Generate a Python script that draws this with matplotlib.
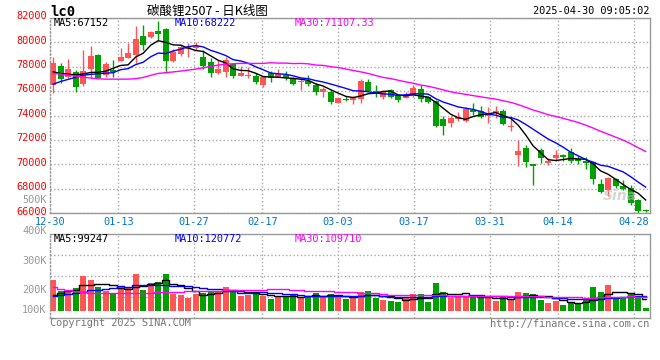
import numpy as np
import pandas as pd
import matplotlib
matplotlib.use('Agg')
import matplotlib.pyplot as plt
from matplotlib.transforms import ScaledTranslation

plt.rcParams['font.family'] = ['DejaVu Sans Mono', 'Noto Sans CJK SC']

# ---- data ----
tick_idx = [0, 9, 19, 28, 38, 48, 58, 67, 77]
tick_lab = ['12-30', '01-13', '01-27', '02-17', '03-03', '03-17', '03-31', '04-14', '04-28']

o = [76500, 78060, 77180, 77560, 76580, 77810, 78960, 77320, 77730, 78470,
     78740, 78960, 80540, 80460, 80950, 81070, 78490, 79040, 79450, 79510,
     78770, 78360, 77460, 77590, 78220, 77260, 77260, 77260, 76500, 77460,
     77180, 77320, 76990, 76770, 76850, 76500, 75950, 75950, 75050, 75300,
     75270, 75330, 76720, 76000, 75540, 76090, 75680, 75470, 75620, 76170,
     75540, 75190, 73700, 73360, 73690, 73580, 74450, 74400, 73960, 74180,
     74400, 73030, 70760, 71310, 70030, 71170, 70160, 70490, 70760, 71040,
     70440, 70300, 70210, 68440, 67890, 68850, 68240, 68080, 67070, 66310]
h = [78770, 78280, 78630, 77730, 79370, 79700, 79040, 78390, 78550, 79510,
     79920, 81340, 81420, 80950, 81750, 81170, 79450, 79850, 79920, 80050,
     79370, 78690, 78550, 78800, 78300, 78060, 78000, 77460, 77260, 77650,
     77850, 77650, 77180, 77050, 77320, 76640, 76360, 76090, 75540, 75600,
     75600, 76990, 76990, 76500, 76000, 76170, 75740, 75950, 76500, 76500,
     75600, 75300, 73960, 73960, 74300, 74720, 75000, 74780, 74720, 74780,
     74540, 73690, 71990, 71580, 70030, 71390, 70490, 71170, 70840, 71390,
     70680, 70620, 70300, 68850, 68980, 68930, 68710, 68300, 67210, 66390]
l = [75870, 76640, 77070, 75950, 76420, 77050, 77070, 77180, 77180, 78470,
     78740, 78280, 79370, 80400, 80190, 77460, 78400, 78880, 78820, 79370,
     77810, 77180, 77400, 77180, 77050, 77260, 77050, 76580, 76360, 76770,
     77180, 76950, 76500, 76090, 76420, 75680, 75540, 74990, 75050, 75180,
     74930, 75000, 75950, 75540, 75350, 75470, 75130, 75410, 75490, 75130,
     75000, 73080, 72400, 73100, 73600, 73490, 74040, 73800, 73430, 73780,
     73220, 72750, 69860, 69800, 68300, 70130, 69940, 70300, 70300, 70130,
     70030, 69620, 68360, 67670, 67400, 68110, 67890, 66660, 66030, 66100]
c = [78280, 76990, 77810, 76360, 77650, 78880, 77100, 78220, 77540, 78820,
     79150, 80270, 79780, 80820, 80680, 78490, 79230, 79640, 79640, 79700,
     78080, 77460, 77810, 78550, 77260, 77460, 77340, 76770, 77180, 77050,
     77400, 77050, 76580, 76850, 76580, 75950, 76170, 75080, 75460, 75270,
     75410, 76830, 76000, 75740, 75950, 75540, 75270, 75610, 76230, 75350,
     75130, 73160, 73180, 73770, 73900, 74510, 74260, 73900, 74180, 74400,
     73280, 73160, 71090, 70210, 69860, 70490, 70300, 70760, 70620, 70300,
     70300, 70160, 68850, 67750, 68930, 68220, 68030, 66850, 66200, 66150]
vol_k = [253, 163, 165, 185, 285, 253, 193, 163, 139, 190,
         190, 302, 171, 226, 234, 302, 136, 130, 104, 139,
         144, 163, 163, 193, 171, 122, 130, 152, 122, 98,
         108, 117, 136, 108, 122, 144, 108, 139, 108, 98,
         108, 152, 163, 104, 90, 82, 71, 104, 136, 136,
         71, 226, 152, 104, 108, 117, 112, 104, 104, 82,
         112, 90, 152, 144, 136, 90, 63, 82, 49, 63,
         55, 90, 193, 152, 209, 108, 112, 144, 108, 22]

# moving averages before enough history is on the chart
ma5_head = [77590, 77450, 77400, 77350]
ma10_head = [76580, 76800, 76970, 77150, 77320, 77380, 77440, 77480, 77520]
ma30_head = [77460, 77400, 77320, 77240, 77150, 77080, 77020, 76990, 76990, 76990,
             76990, 77030, 77130, 77300, 77460, 77520, 77580, 77650, 77730, 77810,
             77920, 78030, 78140, 78220, 78250, 78280, 78280, 78280, 78280]
vma5_head = [130, 144, 160, 171]
vma10_head = [117, 126, 135, 144, 155, 165, 172, 178, 182]
vma30_head = [190, 180, 170, 160, 152, 148, 146, 144, 144, 144,
              144, 144, 146, 148, 150, 152, 153, 155, 157, 160,
              162, 163, 164, 165, 166, 166, 166, 166, 166]

RED, GREEN = '#ff5555', '#00a000'
GRIDC = '#aaaaaa'
W, H = 660, 360
GRID_K = 7.58 / 7.5  # date grid spacing is a bit wider than the candle spacing


def fx(px):
    return px / W


def fy(py):
    return 1 - py / H


def ma(values, n, head):
    s = pd.Series(values, dtype=float).rolling(n).mean().to_numpy()
    s[:len(head)] = head
    return s


o, h, l, c = map(np.array, (o, h, l, c))
vol = np.array(vol_k) * 1000.0
n = len(c)
x = np.arange(n) + 0.42
col = np.where(c >= o, RED, GREEN)

fig = plt.figure(figsize=(W / 100, H / 100), dpi=100)
ax = fig.add_axes([fx(50), fy(213.3), 600 / W, (213.3 - 18) / H])
axv = fig.add_axes([fx(50), fy(318), 600 / W, 84 / H])

# ---- price panel ----
ax.vlines(x, l, h, colors=col, lw=1)
body = np.maximum(np.abs(c - o), 60)
ax.bar(x, body, bottom=np.minimum(o, c), width=0.78, color=col, lw=0)
ax.plot(x, ma(c, 5, ma5_head), c='k', lw=1)
ax.plot(x, ma(c, 10, ma10_head), c='#0000ff', lw=1)
ax.plot(x, ma(c, 30, ma30_head), c='#ff00ff', lw=1)
ax.set_xlim(0, n)
ax.set_ylim(66000, 82000)
ax.set_yticks(np.arange(66000, 82001, 2000))
ax.set_yticklabels(['%d' % v for v in np.arange(66000, 82001, 2000)])
ax.set_xticks(np.array(tick_idx) * GRID_K)
ax.set_xticklabels(tick_lab)
ax.tick_params(axis='y', length=0, pad=2.4, labelsize=7.4, labelcolor='#ff0000')
ax.tick_params(axis='x', length=0, pad=2.5, labelsize=7.4, labelcolor='#0077cc')
for lab in ax.get_yticklabels():
    lab.set_transform(lab.get_transform() + ScaledTranslation(0, 2 / 72, fig.dpi_scale_trans))
ax.grid(True, ls=':', color=GRIDC, lw=1)
ax.set_axisbelow(True)

# ---- volume panel ----
axv.bar(x, vol, width=0.78, color=col, lw=0)
axv.plot(x, ma(vol, 5, np.array(vma5_head) * 1000), c='k', lw=1, drawstyle='steps-mid')
axv.plot(x, ma(vol, 10, np.array(vma10_head) * 1000), c='#0000ff', lw=1, drawstyle='steps-mid')
axv.plot(x, ma(vol, 30, np.array(vma30_head) * 1000), c='#ff00ff', lw=1, drawstyle='steps-mid')
axv.set_xlim(0, n)
vlo, vhi = -59500, 625000
axv.set_ylim(vlo, vhi)
axv.set_yticks([vhi - f * (vhi - vlo) for f in (0.25, 0.5, 0.75)])
axv.set_xticks(np.array(tick_idx) * GRID_K)
axv.tick_params(length=0, labelleft=False, labelbottom=False)
axv.grid(True, ls=':', color=GRIDC, lw=1)
axv.set_axisbelow(True)

for a in (ax, axv):
    for s in a.spines.values():
        s.set_color('#999999')
        s.set_linewidth(1)
    a.spines['left'].set_linestyle(':')

# volume axis labels (drawn as in the original, unevenly spaced)
for lab, py in zip(['500K', '400K', '300K', '200K', '100K'], [200, 230.7, 260.7, 290, 310]):
    fig.text(fx(46.7), fy(py), lab, ha='right', va='center', fontsize=7.4, color='#999999')

# ---- header / legends ----
fig.text(fx(50), fy(11.5), 'lc0', ha='left', va='center', fontsize=10, fontweight='bold')
fig.text(fx(207), fy(11), '碳酸锂2507 - 日K线图', ha='center', va='center', fontsize=9,
         family=['Noto Sans CJK SC', 'DejaVu Sans'])
fig.text(fx(649), fy(11.5), '2025-04-30 09:05:02', ha='right', va='center', fontsize=7.4)

legend_x = [54, 175, 295]
fig.text(fx(legend_x[0]), fy(23.5), 'MA5:67152', va='center', fontsize=7.4, color='k')
fig.text(fx(legend_x[1]), fy(23.5), 'MA10:68222', va='center', fontsize=7.4, color='#0000ff')
fig.text(fx(legend_x[2]), fy(23.5), 'MA30:71107.33', va='center', fontsize=7.4, color='#ff00ff')
fig.text(fx(legend_x[0]), fy(238.5), 'MA5:99247', va='center', fontsize=7.4, color='k')
fig.text(fx(legend_x[1]), fy(238.5), 'MA10:120772', va='center', fontsize=7.4, color='#0000ff')
fig.text(fx(legend_x[2]), fy(238.5), 'MA30:109710', va='center', fontsize=7.4, color='#ff00ff')

fig.text(fx(620), fy(196), 'Sina', ha='center', va='center', fontsize=10, fontweight='bold',
         style='italic', color='#bbbbbb', alpha=0.6, family='DejaVu Sans')

fig.text(fx(50), fy(323.5), 'Copyright 2025 SINA.COM', ha='left', va='center', fontsize=7.4, color='#777777')
fig.text(fx(649), fy(324), 'http://finance.sina.com.cn', ha='right', va='center', fontsize=7.4, color='#777777')

fig.savefig('out.png', dpi=100)
